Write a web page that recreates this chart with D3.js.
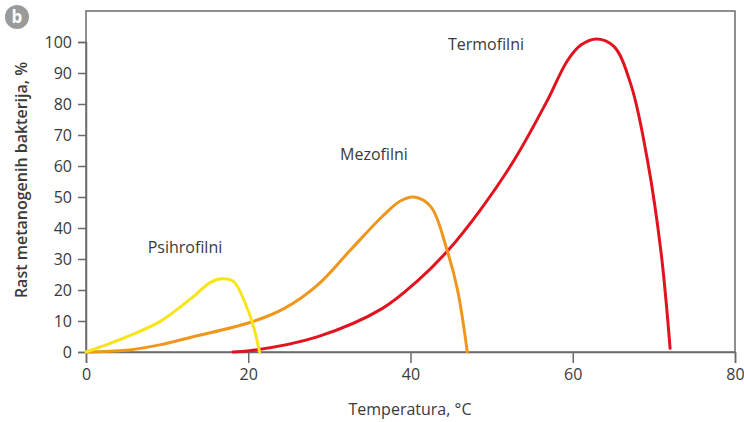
<!DOCTYPE html>
<html><head><meta charset="utf-8">
<script src="https://cdn.jsdelivr.net/npm/d3@7"></script>
<style>body{margin:0;background:#fff}svg{display:block;font-family:"Open Sans",sans-serif}</style>
</head><body><svg id="c" width="744" height="422"></svg>
<script>
const xTicks = [0, 20, 40, 60, 80];
const yTicks = [0, 10, 20, 30, 40, 50, 60, 70, 80, 90, 100];
const psyT = [0, 5, 9.1, 13.2, 15.3, 16.75, 18.2, 19.8, 20.65, 21.4];
const psyV = [0, 4.9, 9.8, 17.8, 22.4, 23.6, 22.7, 14.6, 8.2, 0];
const mezT = [0, 5, 9.1, 13.2, 20.2, 24.4, 28.5, 32.6, 36.7, 38.8, 40.4, 42.5, 44.5, 45.8, 47.0];
const mezV = [0, 0.6, 2.3, 4.9, 9.5, 14, 21.5, 32.9, 44.2, 48.8, 50, 46.9, 32.9, 20, 0];
const terT = [18.1, 20.2, 28.5, 36.5, 40.8, 44.5, 48.6, 52.8, 56.9, 59.3, 61, 63, 65.1, 67.2, 69.2, 70.9, 72.0];
const terV = [0, 0.4, 4.9, 14, 22.8, 32.4, 45.8, 62, 81.3, 93.8, 99, 101, 98.5, 86, 62, 31.8, 1.2];
const seriesNames = ["Psihrofilni", "Mezofilni", "Termofilni"];
const labelPos = [[12.2, 32], [35.5, 62], [49.3, 97.5]];

const svg = d3.select("#c");
const L = 86, R = 735, T = 11, B = 352;
const x = d3.scaleLinear().domain([0, 80]).range([L, R]);
const y = d3.scaleLinear().domain([0, 100]).range([B, 42]);
const axisCol = "#6b6b6b", textCol = "#3a3a3a";

svg.append("rect").attr("x", L).attr("y", T).attr("width", R - L).attr("height", B - T)
  .attr("fill", "none").attr("stroke", axisCol).attr("stroke-width", 1.5);

const xa = svg.append("g").attr("transform", `translate(0,${B})`)
  .call(d3.axisBottom(x).tickValues(xTicks).tickSize(11).tickPadding(6).tickFormat(d3.format("d")));
const ya = svg.append("g").attr("transform", `translate(${L},0)`)
  .call(d3.axisLeft(y).tickValues(yTicks).tickSize(8).tickPadding(6).tickFormat(d3.format("d")));
[xa, ya].forEach(a => {
  a.select(".domain").attr("stroke", axisCol).attr("stroke-width", 1.5);
  a.selectAll(".tick line").attr("stroke", axisCol).attr("stroke-width", 1.5);
  a.selectAll(".tick text").attr("fill", textCol).style("font-size", "16px").style("font-family", "Open Sans");
});

const series = [
  {T: psyT, V: psyV, c: "#f7e51a"},
  {T: mezT, V: mezV, c: "#ef961d"},
  {T: terT, V: terV, c: "#e0131e"}
];
const line = d3.line().x(d => x(d[0])).y(d => y(d[1])).curve(d3.curveCatmullRom.alpha(0.5));
[2, 1, 0].forEach(i => {
  const s = series[i];
  svg.append("path").datum(s.T.map((t, j) => [t, s.V[j]]))
    .attr("d", line).attr("fill", "none").attr("stroke", s.c).attr("stroke-width", 3)
    .attr("stroke-linecap", "round");
});

seriesNames.forEach((n, i) => {
  svg.append("text").attr("x", x(labelPos[i][0])).attr("y", y(labelPos[i][1]))
    .attr("text-anchor", "middle").attr("fill", textCol).style("font-size", "16px").text(n);
});

svg.append("text").attr("x", 410).attr("y", 415).attr("text-anchor", "middle")
  .attr("fill", textCol).style("font-size", "16px").text("Temperatura, °C");
svg.append("text").attr("transform", "translate(27,180) rotate(-90)").attr("text-anchor", "middle")
  .attr("fill", textCol).style("font-size", "16px").style("font-weight", "600").text("Rast metanogenih bakterija, %");

svg.append("circle").attr("cx", 17).attr("cy", 17).attr("r", 12).attr("fill", "#9a9a9a");
svg.append("text").attr("x", 17).attr("y", 23).attr("text-anchor", "middle").attr("fill", "#fff")
  .style("font-size", "17px").style("font-weight", "700").text("b");
</script></body></html>
